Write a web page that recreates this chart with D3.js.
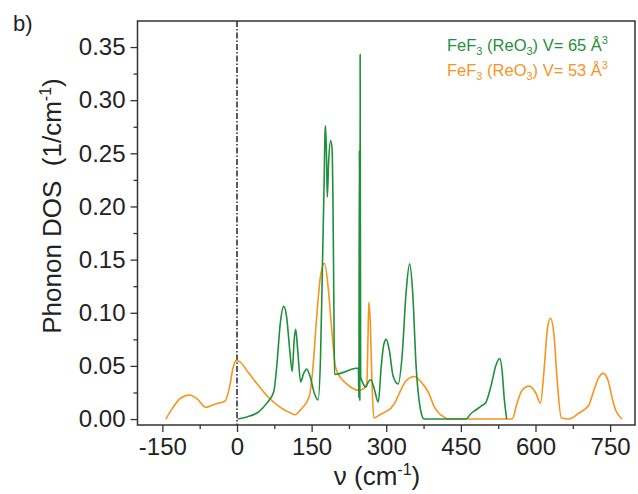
<!DOCTYPE html>
<html>
<head>
<meta charset="utf-8">
<script src="https://cdn.jsdelivr.net/npm/d3@7"></script>
<style>
  body { margin: 0; background: #fff; }
  text { font-family: "Liberation Sans", Arial, sans-serif; }
</style>
</head>
<body>
<div class="chart"></div>
<script>
var svgWidth = 638;
var svgHeight = 494;

// plot box in page pixels
var margin = { top: 21, right: 3, bottom: 69, left: 137.5 };
var width = svgWidth - margin.left - margin.right;
var height = svgHeight - margin.top - margin.bottom;

// x ticks (cm-1) and y ticks (1/cm-1)
var xTicks = [-150, 0, 150, 300, 450, 600, 750];
var yTicks = [0, 0.05, 0.10, 0.15, 0.20, 0.25, 0.30, 0.35];

// FeF3 (ReO3) V = 53 A^3 (orange)
var dos53 = [
  [-143, 0], [-130, 0.010], [-115, 0.019], [-96, 0.0226], [-80, 0.019], [-63, 0.011],
  [-45, 0.014], [-24, 0.017], [-15, 0.030], [-8, 0.048], [-2, 0.055], [5, 0.054],
  [24, 0.043], [44, 0.031], [64, 0.020], [90, 0.010], [111, 0.005], [116, 0.004],
  [130, 0.010], [145, 0.021], [152, 0.045], [160, 0.095], [168, 0.135], [176, 0.1466],
  [183, 0.125], [191, 0.081], [198, 0.049], [208, 0.039], [218, 0.034], [232, 0.029],
  [245, 0.027], [256, 0.029], [261, 0.034], [263, 0.07], [265, 0.110], [268, 0.09],
  [271, 0.04], [275, 0.001], [287, 0.004], [299, 0.007], [309, 0.010], [318, 0.016],
  [326, 0.024], [340, 0.036], [356, 0.040], [370, 0.035], [386, 0.024], [396, 0.012],
  [406, 0.0055], [416, 0.002], [426, 0], [553, 0], [563, 0.015], [573, 0.027],
  [587, 0.031], [600, 0.025], [610, 0.015], [617, 0.045], [624, 0.085], [630, 0.0948],
  [637, 0.08], [643, 0.04], [652, 0.001], [667, 0], [687, 0.0055], [707, 0.013],
  [716, 0.025], [726, 0.038], [736, 0.043], [746, 0.036], [755, 0.018], [761, 0.0085],
  [768, 0.003], [774, 0]
];

// FeF3 (ReO3) V = 65 A^3 (green)
var dos65 = [
  [1, 0], [20, 0.002], [44, 0.007], [60, 0.015], [74, 0.026], [80, 0.05], [87, 0.09],
  [94, 0.106], [100, 0.095], [106, 0.065], [111, 0.0446], [115, 0.075], [118, 0.0845],
  [122, 0.065], [128, 0.035], [134, 0.043], [140, 0.047], [147, 0.040], [155, 0.025],
  [163, 0.018], [168, 0.06], [172, 0.15], [175, 0.22], [177, 0.27], [178, 0.276],
  [180, 0.245], [181.5, 0.209], [184, 0.24], [188, 0.262], [191, 0.255], [193, 0.2],
  [194.5, 0.12], [196, 0.042], [244, 0.048], [245, 0.02], [246, 0.253], [247, 0.017],
  [247.5, 0.343], [248.5, 0.04], [252, 0.035], [259, 0.030], [264, 0.035], [269, 0.037],
  [275, 0.03], [284, 0.016], [290, 0.05], [295, 0.07], [300, 0.075], [306, 0.065],
  [314, 0.04], [324, 0.033], [332, 0.06], [340, 0.12], [347, 0.146], [353, 0.12],
  [360, 0.05], [369, 0.0085], [376, 0], [460, 0], [470, 0.005], [480, 0.0085],
  [490, 0.012], [500, 0.0154], [510, 0.03], [520, 0.05], [528, 0.057], [533, 0.045],
  [537, 0.02], [542, 0]
];

var green = "#1f8f3c";
var orange = "#f7941e";

var svg = d3.select(".chart")
  .append("svg")
  .attr("width", svgWidth)
  .attr("height", svgHeight);

var chartGroup = svg.append("g")
  .attr("transform", `translate(${margin.left}, ${margin.top})`);

var x = d3.scaleLinear().domain([-200, 800]).range([0, width]);
var y = d3.scaleLinear().domain([-0.0056, 0.3745]).range([height, 0]);

// minor ticks
var xMinor = d3.range(-225, 800, 75).filter(v => v > -200 && xTicks.indexOf(v) < 0);
var yMinor = d3.range(0.025, 0.37, 0.05);

chartGroup.append("g")
  .attr("transform", `translate(0, ${height})`)
  .call(d3.axisBottom(x).tickValues(xMinor).tickSize(4).tickFormat(""))
  .call(g => g.select(".domain").remove());

chartGroup.append("g")
  .call(d3.axisLeft(y).tickValues(yMinor).tickSize(4).tickFormat(""))
  .call(g => g.select(".domain").remove());

var xAxis = chartGroup.append("g")
  .attr("class", "xAxis")
  .attr("transform", `translate(0, ${height})`)
  .call(d3.axisBottom(x).tickValues(xTicks).tickSize(7).tickPadding(6).tickFormat(d3.format("d")));

var yAxis = chartGroup.append("g")
  .attr("class", "yAxis")
  .call(d3.axisLeft(y).tickValues(yTicks).tickSize(7).tickPadding(5).tickFormat(d3.format(".2f")));

chartGroup.selectAll(".tick line").attr("stroke", "#333").attr("stroke-width", 1.3);
chartGroup.selectAll(".domain").remove();
xAxis.selectAll("text").attr("font-size", 24).attr("fill", "#222").text(d => d < 0 ? "-" + (-d) : d);
yAxis.selectAll("text").attr("font-size", 24).attr("fill", "#222");

// frame
chartGroup.append("rect")
  .attr("width", width)
  .attr("height", height)
  .attr("fill", "none")
  .attr("stroke", "#333")
  .attr("stroke-width", 1.5);

// zero line
chartGroup.append("line")
  .attr("x1", x(0)).attr("x2", x(0))
  .attr("y1", 0).attr("y2", height)
  .attr("stroke", "#333")
  .attr("stroke-width", 1.6)
  .attr("stroke-dasharray", "6,2,1.5,2");

var line = d3.line()
  .x(d => x(d[0]))
  .y(d => y(d[1]))
  .curve(d3.curveMonotoneX);

chartGroup.append("path")
  .datum(dos53)
  .attr("d", line)
  .attr("fill", "none")
  .attr("stroke", orange)
  .attr("stroke-width", 1.6);

chartGroup.append("path")
  .datum(dos65)
  .attr("d", line)
  .attr("fill", "none")
  .attr("stroke", green)
  .attr("stroke-width", 1.6);

// legend
function legendLine(yPos, vol, color) {
  var t = svg.append("text")
    .attr("x", 447)
    .attr("y", yPos)
    .attr("font-size", 16.5)
    .attr("fill", color);
  t.append("tspan").text("FeF");
  t.append("tspan").attr("font-size", 11).attr("dy", 4).text("3");
  t.append("tspan").attr("dy", -4).text(" (ReO");
  t.append("tspan").attr("font-size", 11).attr("dy", 4).text("3");
  t.append("tspan").attr("dy", -4).text(") V= " + vol + " Å");
  t.append("tspan").attr("font-size", 11).attr("dy", -7).text("3");
}
legendLine(51, 65, green);
legendLine(76, 53, orange);

// panel label
svg.append("text")
  .attr("x", 13)
  .attr("y", 31)
  .attr("font-size", 22)
  .attr("fill", "#222")
  .text("b)");

// axis titles
var yTitle = svg.append("text")
  .attr("transform", "translate(61, 206) rotate(-90)")
  .attr("text-anchor", "middle")
  .attr("font-size", 26)
  .attr("fill", "#222")
  .style("white-space", "pre");
yTitle.append("tspan").text("Phonon DOS  (1/cm");
yTitle.append("tspan").attr("font-size", 16).attr("dy", -10).text("-1");
yTitle.append("tspan").attr("dy", 10).text(")");

var xTitle = svg.append("text")
  .attr("x", 377)
  .attr("y", 485)
  .attr("text-anchor", "middle")
  .attr("font-size", 26)
  .attr("fill", "#222");
xTitle.append("tspan").text("ν (cm");
xTitle.append("tspan").attr("font-size", 16).attr("dy", -10).text("-1");
xTitle.append("tspan").attr("dy", 10).text(")");
</script>
</body>
</html>
